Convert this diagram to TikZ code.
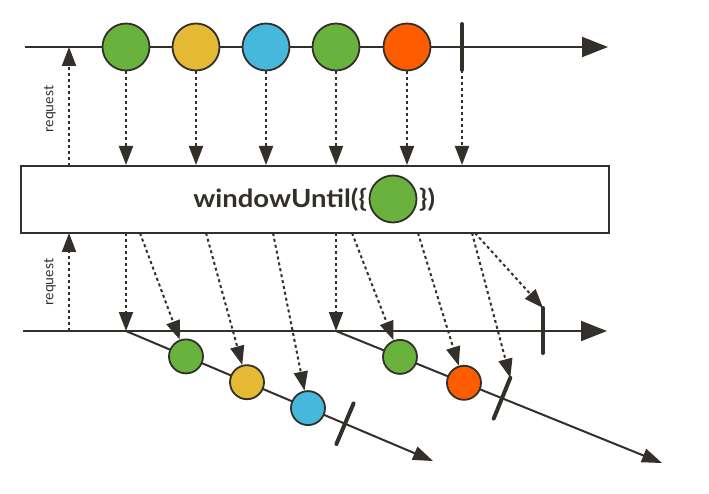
\documentclass[tikz,border=0pt]{standalone}
\usepackage{fontspec}
\usepackage{graphicx}
\setmainfont{Lato}
\usetikzlibrary{arrows.meta}
\definecolor{dk}{HTML}{33302B}
\definecolor{mgreen}{HTML}{6AB23E}
\definecolor{myellow}{HTML}{E4B934}
\definecolor{mblue}{HTML}{45B8DC}
\definecolor{morange}{HTML}{FF5C00}
\tikzset{
  axis/.style={draw=dk,line width=2pt},
  axisarrow/.style={axis,-{Triangle[length=26pt,width=20pt]}},
  winarrow/.style={axis,-{Triangle[length=20pt,width=14pt]}},
  bigmarble/.style={circle,draw=dk,line width=1.8pt,minimum size=47pt,inner sep=0pt},
  smallmarble/.style={circle,draw=dk,line width=1.8pt,minimum size=34pt,inner sep=0pt},
  dasharrow/.style={draw=dk,line width=2pt,dash pattern=on 3pt off 3pt,-{Triangle[length=19pt,width=14pt]}},
  endbar/.style={draw=dk,line width=4pt,line cap=round},
  opbox/.style={draw=dk,line width=2pt,fill=white,minimum width=588pt,minimum height=67pt,inner sep=0pt},
  reqlabel/.style={font=\fontsize{14}{14}\selectfont,text=dk,rotate=90,inner sep=0pt},
  optext/.style={font=\fontsize{25}{25}\selectfont\bfseries,text=dk,inner sep=0pt}
}
\begin{document}
\begin{tikzpicture}[x=1pt,y=-1pt]
\useasboundingbox (0,0) rectangle (709,494);
% top axis
\coordinate (ta0) at (25,47);
\coordinate (ta1) at (608,47);
\draw[axisarrow] (ta0) -- (ta1);
\node[bigmarble,fill=mgreen] (t1) at (126,47) {};
\node[bigmarble,fill=myellow] (t2) at (196,47) {};
\node[bigmarble,fill=mblue] (t3) at (266,47) {};
\node[bigmarble,fill=mgreen] (t4) at (336,47) {};
\node[bigmarble,fill=morange] (t5) at (407,47) {};
\coordinate (tbt) at (462,24);
\coordinate (tbb) at (462,70);
\draw[endbar] (tbt) -- (tbb);
% operator box
\node[opbox] (box) at (315,199.5) {};
\node[optext,anchor=base east] (opl) at (367,208) {\scalebox{1.1}[1]{windowUntil(\{}};
\node[bigmarble,fill=mgreen] (opm) at (393,199) {};
\node[optext,anchor=base west] (opr) at (419,208) {\scalebox{1.1}[1]{\})}};
% top dashed arrows
\foreach \n in {t1,t2,t3,t4,t5}{
  \draw[dasharrow] (\n.south) -- (\n.south |- box.north);
}
\draw[dasharrow] (tbb) -- (tbb |- box.north);
% request arrows
\coordinate (rq1) at (69,166);
\coordinate (rq1e) at (69,47);
\draw[dasharrow] (rq1) -- (rq1e);
\node[reqlabel] (req1) at (50,109) {request};
\coordinate (rq2) at (69,331);
\coordinate (rq2e) at (69,233);
\draw[dasharrow] (rq2) -- (rq2e);
\node[reqlabel] (req2) at (50,282) {request};
% bottom axis
\coordinate (ba0) at (23,331);
\coordinate (ba1) at (607,331);
\draw[axisarrow] (ba0) -- (ba1);
\coordinate (bbt) at (543,308);
\coordinate (bbb) at (543,353);
\draw[endbar] (bbt) -- (bbb);
% window 1
\coordinate (w1s) at (126,331);
\coordinate (w1e) at (433,461);
\draw[winarrow] (w1s) -- (w1e);
\node[smallmarble,fill=mgreen] (g1) at (186,356.4) {};
\node[smallmarble,fill=myellow] (y1) at (247,382.2) {};
\node[smallmarble,fill=mblue] (b1) at (308,408.1) {};
\coordinate (w1bt) at (353.6,403.4);
\coordinate (w1bb) at (336.4,444);
\draw[endbar] (w1bt) -- (w1bb);
% window 2
\coordinate (w2s) at (336,331);
\coordinate (w2e) at (662,463);
\draw[winarrow] (w2s) -- (w2e);
\node[smallmarble,fill=mgreen] (g2) at (400,356.9) {};
\node[smallmarble,fill=morange] (o2) at (464,382.8) {};
\coordinate (w2bt) at (510.3,377.8);
\coordinate (w2bb) at (493.7,418.6);
\draw[endbar] (w2bt) -- (w2bb);
% lower dashed arrows
\coordinate (d1) at (126,233);
\coordinate (d2) at (140,233);
\coordinate (d3) at (206,233);
\coordinate (d4) at (273,233);
\coordinate (d5) at (336,233);
\coordinate (d6) at (352,233);
\coordinate (d7) at (418,233);
\coordinate (d8) at (472,233);
\coordinate (d9) at (475,233);
\draw[dasharrow] (d1) -- (w1s);
\draw[dasharrow] (d2) -- (g1);
\draw[dasharrow] (d3) -- (y1);
\draw[dasharrow] (d4) -- (b1);
\draw[dasharrow] (d5) -- (w2s);
\draw[dasharrow] (d6) -- (g2);
\draw[dasharrow] (d7) -- (o2);
\draw[dasharrow] (d8) -- (w2bt);
\draw[dasharrow] (d9) -- (bbt);
\end{tikzpicture}
\end{document}
